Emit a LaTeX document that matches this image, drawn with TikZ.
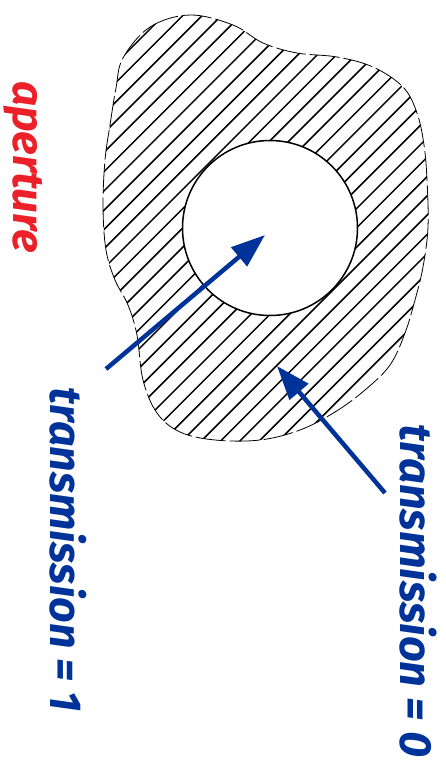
\documentclass[tikz,border=0pt]{standalone}
\usepackage{fontspec}
\setmainfont{Fira Sans}
\usetikzlibrary{arrows.meta}
\definecolor{txtblue}{RGB}{0,51,153}
\definecolor{txtred}{RGB}{236,32,40}
\tikzset{
  label text/.style={font=\bfseries\itshape, inner sep=0pt, rotate=-90},
  bluearrow/.style={draw=txtblue, line width=4.5pt, -{Triangle[length=34pt,width=24pt]}},
  hatchline/.style={line width=1.5pt},
  outline/.style={line width=0.8pt, dash pattern=on 30pt off 4pt},
}
\begin{document}
\begin{tikzpicture}[x=1pt,y=-1pt]
\useasboundingbox (0,0) rectangle (445,761);
\def\blob{plot[smooth cycle, tension=0.6] coordinates {
 (123,58) (150,27) (190,15) (233,25) (263,43) (297,53) (337,57) (373,67)
 (403,87) (417,113) (424,145) (427,180) (428,227) (423,267) (415,300)
 (405,333) (390,365) (365,390) (335,412) (300,430) (260,440) (215,440)
 (180,432) (157,413) (143,380) (137,335) (128,305) (115,280) (106,250)
 (103,207) (105,160) (110,125) (116,88)}}
\begin{scope}
  \clip \blob;
  \foreach \k in {-10,...,36}{
    \draw[hatchline] ({-263+19.3*\k},500) -- ++(500,-500);
  }
\end{scope}
\draw[outline] \blob;
\node[circle, draw, fill=white, line width=1.5pt, minimum size=175pt, inner sep=0pt] (hole) at (270,228) {};
\coordinate (t1) at (265,235);
\coordinate (s1) at (106,369);
\coordinate (t2) at (277,366);
\coordinate (s2) at (385,493);
\draw[bluearrow] (s1) -- (t1);
\draw[bluearrow] (s2) -- (t2);
\node[label text, text=txtred] (ap) at (23,167) {\resizebox{172pt}{!}{aperture}};
\node[label text, text=txtblue] (tr1) at (68,550) {\resizebox{324pt}{!}{transmission = 1}};
\node[label text, text=txtblue] (tr0) at (418,591) {\resizebox{332pt}{!}{transmission = 0}};
\end{tikzpicture}
\end{document}
